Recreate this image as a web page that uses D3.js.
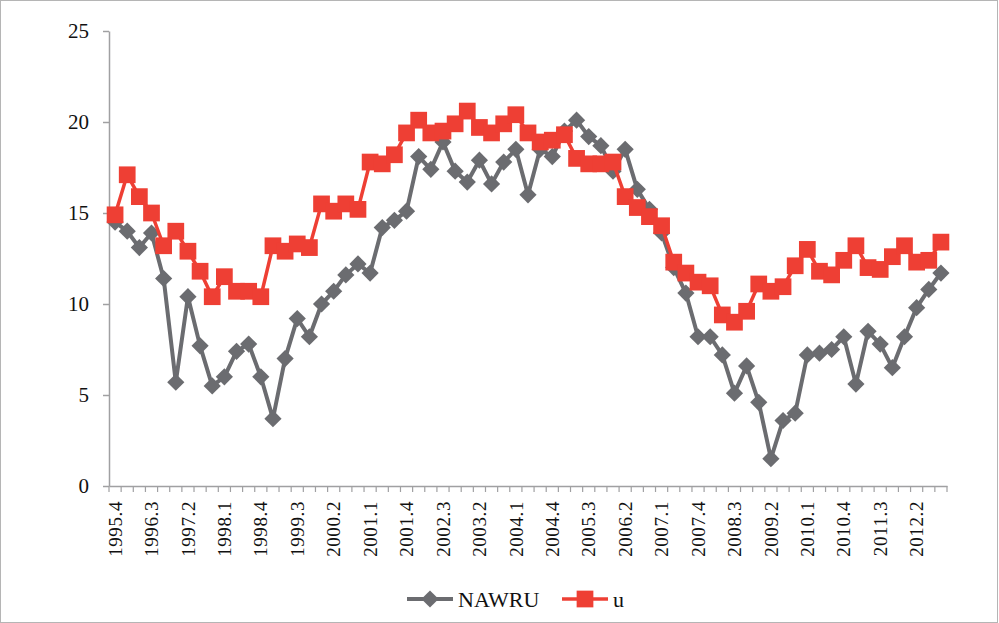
<!DOCTYPE html>
<html>
<head>
<meta charset="utf-8">
<script src="https://cdn.jsdelivr.net/npm/d3@7"></script>
<style>
  body { margin: 0; background: #fff; }
  svg { display: block; }
  svg text { font-family: "Liberation Serif", "Times New Roman", "DejaVu Serif", serif; }
</style>
</head>
<body>
<svg id="chart"></svg>
<script>
// quarters 1995.4 .. 2012.4
const quarters = [
  "1995.4",
  "1996.1", "1996.2", "1996.3", "1996.4",
  "1997.1", "1997.2", "1997.3", "1997.4",
  "1998.1", "1998.2", "1998.3", "1998.4",
  "1999.1", "1999.2", "1999.3", "1999.4",
  "2000.1", "2000.2", "2000.3", "2000.4",
  "2001.1", "2001.2", "2001.3", "2001.4",
  "2002.1", "2002.2", "2002.3", "2002.4",
  "2003.1", "2003.2", "2003.3", "2003.4",
  "2004.1", "2004.2", "2004.3", "2004.4",
  "2005.1", "2005.2", "2005.3", "2005.4",
  "2006.1", "2006.2", "2006.3", "2006.4",
  "2007.1", "2007.2", "2007.3", "2007.4",
  "2008.1", "2008.2", "2008.3", "2008.4",
  "2009.1", "2009.2", "2009.3", "2009.4",
  "2010.1", "2010.2", "2010.3", "2010.4",
  "2011.1", "2011.2", "2011.3", "2011.4",
  "2012.1", "2012.2", "2012.3", "2012.4"
];

const nawru = [
  14.5,
  14.0, 13.1, 13.9, 11.4,
  5.7, 10.4, 7.7, 5.5,
  6.0, 7.4, 7.8, 6.0,
  3.7, 7.0, 9.2, 8.2,
  10.0, 10.7, 11.6, 12.2,
  11.7, 14.2, 14.6, 15.1,
  18.1, 17.4, 18.9, 17.3,
  16.7, 17.9, 16.6, 17.8,
  18.5, 16.0, 18.5, 18.1,
  19.5, 20.1, 19.2, 18.7,
  17.3, 18.5, 16.3, 15.2,
  13.9, 12.0, 10.6, 8.2,
  8.2, 7.2, 5.1, 6.6,
  4.6, 1.5, 3.6, 4.0,
  7.2, 7.3, 7.5, 8.2,
  5.6, 8.5, 7.8, 6.5,
  8.2, 9.8, 10.8, 11.7
];

const u = [
  14.9,
  17.1, 15.9, 15.0, 13.2,
  14.0, 12.9, 11.8, 10.4,
  11.5, 10.7, 10.7, 10.4,
  13.2, 12.9, 13.3, 13.1,
  15.5, 15.1, 15.5, 15.2,
  17.8, 17.7, 18.2, 19.4,
  20.1, 19.4, 19.5, 19.9,
  20.6, 19.7, 19.4, 19.9,
  20.4, 19.4, 18.9, 19.0,
  19.3, 18.0, 17.7, 17.7,
  17.8, 15.9, 15.3, 14.8,
  14.3, 12.3, 11.7, 11.2,
  11.0, 9.4, 9.0, 9.6,
  11.1, 10.7, 10.95, 12.1,
  13.0, 11.8, 11.6, 12.4,
  13.2, 12.0, 11.9, 12.6,
  13.2, 12.3, 12.4, 13.4
];

const yTicks = [0, 5, 10, 15, 20, 25];

const width = 999;
const height = 623;
const axisColor = "#a0a0a2";
const grayColor = "#6b6c70";
const redColor = "#ee3f34";

const svg = d3.select("#chart")
              .attr("width", width)
              .attr("height", height);

// chart area border
svg.append("rect")
   .attr("x", 0.5).attr("y", 0.5)
   .attr("width", width - 2).attr("height", height - 1)
   .attr("fill", "#fff")
   .attr("stroke", "#b5b5b5");

const x = d3.scaleBand(quarters, [109, 947]).padding(0);
const y = d3.scaleLinear([0, 25], [486, 31]);
const cx = d => x(d) + x.bandwidth() / 2;

// y axis
svg.append("g")
   .attr("transform", "translate(109,0)")
   .call(d3.axisLeft(y).tickValues(yTicks).tickSize(6).tickPadding(14).tickSizeOuter(0))
   .call(g => g.attr("font-family", null))
   .call(g => g.selectAll("path, line").attr("stroke", axisColor).attr("stroke-width", 1.5))
   .call(g => g.selectAll("text")
               .attr("fill", "#111")
               .style("font-size", "21px"));

// x axis, labels every 3rd quarter
svg.append("g")
   .attr("transform", "translate(0,486)")
   .call(d3.axisBottom(x).tickSize(0).tickSizeOuter(0)
           .tickFormat((d, i) => i % 3 === 0 ? d : ""))
   .call(g => g.attr("font-family", null))
   .call(g => g.select(".domain").attr("stroke", axisColor).attr("stroke-width", 1.5))
   .call(g => g.selectAll("text")
               .attr("transform", "rotate(-90)")
               .attr("x", -15)
               .attr("y", 0)
               .attr("dy", "0.35em")
               .attr("text-anchor", "end")
               .attr("fill", "#111")
               .style("letter-spacing", "0.6px")
               .style("font-size", "19px"));

// boundary tick marks between quarters
const bounds = quarters.map(q => x(q)).concat([x.range()[1]]);
svg.append("g")
   .selectAll("line")
   .data(bounds)
   .join("line")
   .attr("x1", d => d).attr("x2", d => d)
   .attr("y1", 486).attr("y2", 492)
   .attr("stroke", axisColor)
   .attr("stroke-width", 1.2);

const line = d3.line()
               .x(d => cx(d[0]))
               .y(d => y(d[1]));

const diamond = d3.symbol(d3.symbolSquare, 148);
const square = d3.symbol(d3.symbolSquare, 280);

function drawSeries(values, color, lineWidth, sym, rot) {
  const pts = quarters.map((q, i) => [q, values[i]]);
  svg.append("path")
     .attr("d", line(pts))
     .attr("fill", "none")
     .attr("stroke", color)
     .attr("stroke-width", lineWidth)
     .attr("stroke-linejoin", "round");
  svg.append("g")
     .selectAll("path")
     .data(pts)
     .join("path")
     .attr("d", sym)
     .attr("transform", d => `translate(${cx(d[0])},${y(d[1])}) rotate(${rot})`)
     .attr("fill", color);
}

drawSeries(nawru, grayColor, 4, diamond, 45);
drawSeries(u, redColor, 3.5, square, 0);

// legend
const legend = [
  { name: "NAWRU", color: grayColor, sym: diamond, rot: 45, x0: 407, lw: 4 },
  { name: "u", color: redColor, sym: square, rot: 0, x0: 562, lw: 3.5 }
];
const lg = svg.append("g").attr("transform", "translate(0,599)");
legend.forEach(l => {
  lg.append("line")
    .attr("x1", l.x0).attr("x2", l.x0 + 46)
    .attr("y1", 0).attr("y2", 0)
    .attr("stroke", l.color).attr("stroke-width", l.lw);
  lg.append("path")
    .attr("d", l.sym)
    .attr("transform", `translate(${l.x0 + 23},0) rotate(${l.rot})`)
    .attr("fill", l.color);
  lg.append("text")
    .attr("x", l.x0 + 51)
    .attr("y", 0)
    .attr("dy", "0.35em")
    .attr("fill", "#111")
    .style("font-size", "22px")
    .text(l.name);
});
</script>
</body>
</html>
